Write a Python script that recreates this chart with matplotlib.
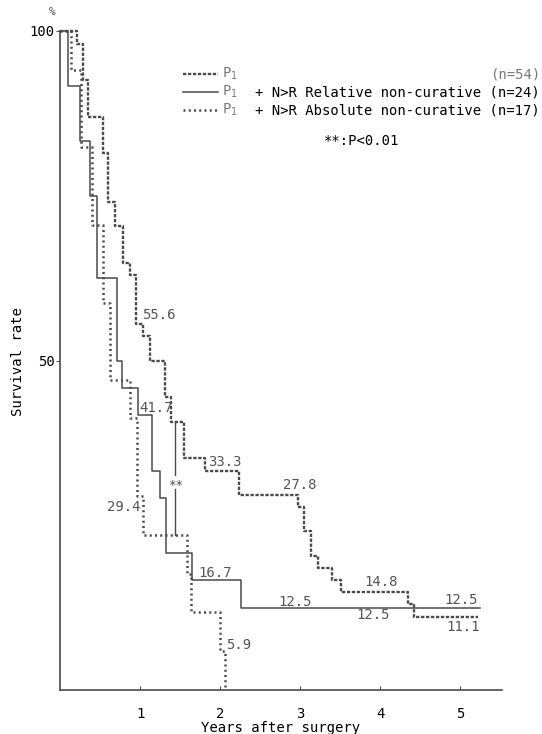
import numpy as np
import matplotlib
matplotlib.use("Agg")
import matplotlib.pyplot as plt
from matplotlib.lines import Line2D

plt.rcParams['font.family'] = ['DejaVu Sans Mono']
plt.rcParams['mathtext.fontset'] = 'dejavusans'

# P1 (n=54)
p1_years = [0.21, 0.29, 0.35, 0.54, 0.605, 0.69, 0.79, 0.88, 0.95, 1.04, 1.13, 1.31,
            1.39, 1.55, 1.81, 2.23, 2.97, 3.05, 3.13, 3.22, 3.40, 3.51, 4.34, 4.42]
p1_surv = [98.1, 92.6, 87.0, 81.5, 74.1, 70.4, 64.8, 63.0, 55.6, 53.7, 50.0, 44.4,
           40.7, 35.2, 33.3, 29.6, 27.8, 24.1, 20.4, 18.5, 16.7, 14.8, 13.0, 11.1]
p1_end = 5.22

# P1 + N>R relative non-curative (n=24)
rel_years = [0.10, 0.25, 0.375, 0.46, 0.71, 0.78, 0.98, 1.15, 1.25, 1.32, 1.65, 2.26]
rel_surv = [91.7, 83.3, 75.0, 62.5, 50.0, 45.8, 41.7, 33.3, 29.2, 20.8, 16.7, 12.5]
rel_end = 5.24

# P1 + N>R absolute non-curative (n=17)
abs_years = [0.14, 0.26, 0.40, 0.54, 0.63, 0.87, 0.96, 1.04, 1.585, 1.64, 2.0, 2.055]
abs_surv = [94.1, 82.4, 70.6, 58.8, 47.1, 41.2, 29.4, 23.5, 17.6, 11.8, 5.9, 0.0]

sig_year = 1.44  # where the ** comparison is marked

# value labels: text, year, survival
value_labels = [("55.6", 1.02, 56.9), ("41.7", 0.99, 42.8), ("33.3", 1.85, 34.6),
                ("27.8", 2.78, 31.1), ("16.7", 1.73, 17.7), ("5.9", 2.07, 6.8),
                ("14.8", 3.80, 16.4), ("12.5", 3.70, 11.4), ("12.5", 4.80, 13.7),
                ("11.1", 4.83, 9.6)]
value_labels_right = [("29.4", 1.00, 27.8), ("12.5", 3.14, 13.4)]

col = '#4a4a4a'
txtcol = '#555555'

def step_value(years, surv, t):
    i = np.searchsorted(years, t, side='right')
    return 100.0 if i == 0 else surv[i - 1]

fig = plt.figure(figsize=(5.42, 7.34), dpi=100)
ax = fig.add_axes([60/542, 44/734, 442/542, 659/734])

ax.step([0] + p1_years + [p1_end], [100] + p1_surv + [p1_surv[-1]], where='post',
        color=col, lw=1.7, ls=(0, (1.4, 0.7)), clip_on=False)
ax.step([0] + rel_years + [rel_end], [100] + rel_surv + [rel_surv[-1]], where='post',
        color=col, lw=1.1, clip_on=False)
ax.step([0] + abs_years, [100] + abs_surv, where='post',
        color=col, lw=1.8, ls=(0, (0.8, 1.3)), clip_on=False)

# ** marker between P1 and absolute curves
top = step_value(p1_years, p1_surv, sig_year)
bot = step_value(abs_years, abs_surv, sig_year)
mid = (top + bot) / 2 - 0.5
ax.plot([sig_year, sig_year], [top, mid + 1.1], color=col, lw=1.0)
ax.plot([sig_year, sig_year], [mid - 1.1, bot], color=col, lw=1.0)
ax.text(sig_year, mid - 0.5, "**", ha='center', va='center', fontsize=9, color=col)

for t, x, y in value_labels:
    ax.text(x, y, t, ha='left', va='center', fontsize=10, color=txtcol)
for t, x, y in value_labels_right:
    ax.text(x, y, t, ha='right', va='center', fontsize=10, color=txtcol)

ax.set_xlim(0, 5.52)
ax.set_ylim(0, 100)
ax.spines['top'].set_visible(False)
ax.spines['right'].set_visible(False)
for s in ['left', 'bottom']:
    ax.spines[s].set_color(col)
    ax.spines[s].set_linewidth(1.2)
ax.set_xticks([1, 2, 3, 4, 5])
ax.set_xticklabels(['1', '2', '3', '4', '5'])
ax.tick_params(axis='x', direction='in', length=3, pad=12, labelsize=10, color=col)
ax.set_yticks([50, 100])
ax.set_yticklabels(['50', '100'])
ax.tick_params(axis='y', direction='out', length=3, pad=1, labelsize=10, color=col)

fig.text(281/542, 1 - 728/734, "Years after surgery", ha='center', va='center', fontsize=10)
fig.text(18/542, 1 - 362/734, "Survival rate", ha='center', va='center', rotation=90, fontsize=10)
fig.text(52/542, 1 - 12/734, "%", ha='center', va='center', fontsize=8, color=col)

# legend
rows = [(74, dict(lw=1.7, ls=(0, (1.4, 0.7))), "(n=54)", '#777777'),
        (92, dict(lw=1.1, ls='-'), "+ N>R Relative non-curative (n=24)", 'black'),
        (110, dict(lw=1.8, ls=(0, (0.8, 1.3))), "+ N>R Absolute non-curative (n=17)", 'black')]
for py, st, label, c in rows:
    fy = 1 - py/734
    fig.add_artist(Line2D([183/542, 218/542], [fy, fy], color=col, transform=fig.transFigure, **st))
    fig.text(222/542, fy, "P$_1$", ha='left', va='center', fontsize=10, color='#777777')
    fig.text(540/542, fy, label, ha='right', va='center', fontsize=10, color=c)
fig.text(362/542, 1 - 141/734, "**:P<0.01", ha='center', va='center', fontsize=10)

fig.savefig("out.png", dpi=100)
